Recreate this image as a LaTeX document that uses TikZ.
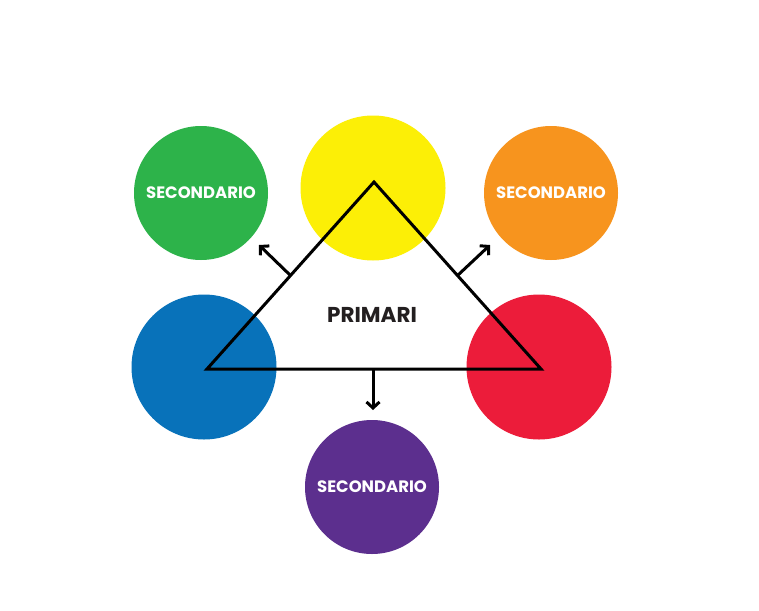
\documentclass[tikz,border=0pt]{standalone}
\usepackage{fontspec}
\setmainfont{Poppins}
\usetikzlibrary{arrows.meta, calc}
\definecolor{cgreen}{HTML}{2DB34A}
\definecolor{cyellow}{HTML}{FCEF06}
\definecolor{corange}{HTML}{F7941E}
\definecolor{cblue}{HTML}{0872BA}
\definecolor{cred}{HTML}{EC1C3A}
\definecolor{cpurple}{HTML}{5C2F8E}
\definecolor{cdark}{HTML}{231F20}
\begin{document}
\begin{tikzpicture}[x=1pt, y=-1pt,
	    big/.style={circle, inner sep=0pt, minimum size=145pt},
	    small/.style={circle, inner sep=0pt, minimum size=134pt, text=white,
	      font=\fontsize{16.5}{18}\selectfont\bfseries},
	    edge/.style={line width=3pt, line join=miter},
	    push/.style={-{Straight Barb[length=6pt, width=13pt, line width=3pt]}, line width=3pt}
	  ]
	  \path[use as bounding box, fill=white] (0,0) rectangle (759,610);
	 
	  % primary colours
	  \node[big, fill=cyellow] (Y) at (373,188) {};
	  \node[big, fill=cblue]   (B) at (204,367) {};
	  \node[big, fill=cred]    (R) at (539,367) {};
	 
	  % secondary colours
	  \node[small, fill=cgreen]  (G) at (201,193) {SECONDARIO};
	  \node[small, fill=corange] (O) at (551,193) {SECONDARIO};
	  \node[small, fill=cpurple] (V) at (372,487) {SECONDARIO};
	 
	  \coordinate (T1) at (374,182);
	  \coordinate (T2) at (207,369);
	  \coordinate (T3) at (541,369);
	  \draw[edge] (T1) -- (T2) -- (T3) -- cycle;
	 
	  \coordinate (M1) at ($(T1)!0.5!(T2)$);
	  \coordinate (M2) at ($(T1)!0.5!(T3)$);
	  \coordinate (M3) at (373,369);
	  \coordinate (E1) at (259,245);
	  \coordinate (E2) at (490,245);
	  \coordinate (E3) at (373,410);
	  \draw[push] (M1) -- (E1);
	  \draw[push] (M2) -- (E2);
	  \draw[push] (M3) -- (E3);
	 
	  \node[text=cdark, font=\fontsize{21.5}{24}\selectfont\bfseries] (P) at (372,315) {PRIMARI};
	\end{tikzpicture}
\end{document}
